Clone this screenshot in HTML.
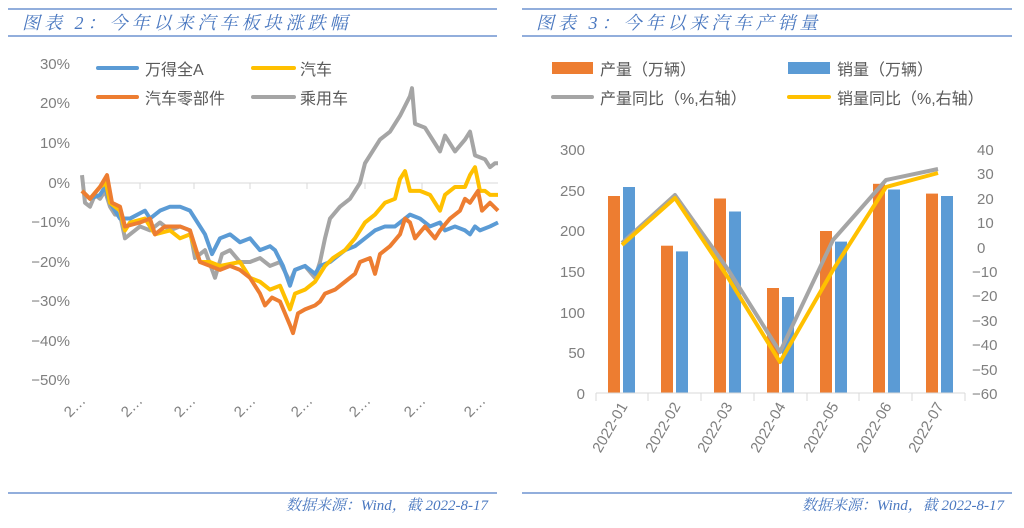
<!DOCTYPE html>
<html><head><meta charset="utf-8"><style>
body{margin:0;background:#fff;width:1024px;height:523px;overflow:hidden}
text{font-family:"Liberation Sans","Noto Sans CJK SC",sans-serif}
.t{font-family:"Liberation Serif","Noto Serif CJK SC",serif;font-style:italic;fill:#4a78c0}
.ax{fill:#7f7f7f;font-size:15px}
.lg{fill:#595959;font-size:16px}
</style></head><body>
<svg width="1024" height="523" xmlns="http://www.w3.org/2000/svg">
<g stroke="#6f93d0" stroke-width="1.5">
<line x1="8" y1="9" x2="497" y2="9"/><line x1="8" y1="36" x2="497" y2="36"/><line x1="8" y1="493" x2="497" y2="493"/>
<line x1="522" y1="9" x2="1012" y2="9"/><line x1="522" y1="36" x2="1012" y2="36"/><line x1="522" y1="493" x2="1012" y2="493"/>
</g>
<text class="t" x="22" y="29" font-size="18" letter-spacing="4">图表 2：今年以来汽车板块涨跌幅</text>
<text class="t" x="536" y="29" font-size="18" letter-spacing="4">图表 3：今年以来汽车产销量</text>
<text class="t" x="488" y="510" font-size="15" text-anchor="end">数据来源：Wind，截 2022-8-17</text>
<text class="t" x="1004" y="510" font-size="15" text-anchor="end">数据来源：Wind，截 2022-8-17</text>

<!-- left chart -->
<g class="ax" text-anchor="end">
<text x="70" y="69">30%</text><text x="70" y="108">20%</text><text x="70" y="148">10%</text><text x="70" y="188">0%</text>
<text x="70" y="227">−10%</text><text x="70" y="267">−20%</text><text x="70" y="306">−30%</text><text x="70" y="346">−40%</text><text x="70" y="385">−50%</text>
</g>
<line x1="82" y1="183" x2="498" y2="183" stroke="#d9d9d9" stroke-width="1"/>
<g stroke="#d9d9d9"><line x1="140" y1="183" x2="140" y2="189"/><line x1="194" y1="183" x2="194" y2="189"/><line x1="250" y1="183" x2="250" y2="189"/><line x1="307" y1="183" x2="307" y2="189"/><line x1="365" y1="183" x2="365" y2="189"/><line x1="422" y1="183" x2="422" y2="189"/><line x1="478" y1="183" x2="478" y2="189"/></g>
<g class="ax" font-size="14">
<text transform="translate(70,418) rotate(-45)">2…</text><text transform="translate(127,418) rotate(-45)">2…</text><text transform="translate(180,418) rotate(-45)">2…</text><text transform="translate(240,418) rotate(-45)">2…</text><text transform="translate(297,418) rotate(-45)">2…</text><text transform="translate(355,418) rotate(-45)">2…</text><text transform="translate(410,418) rotate(-45)">2…</text><text transform="translate(470,418) rotate(-45)">2…</text>
</g>
<g fill="none" stroke-width="4" stroke-linejoin="round" transform="translate(0,183) scale(1,-3.95)">
<polyline vector-effect="non-scaling-stroke" stroke="#a5a5a5" points="82,2 85,-5 90,-6 95,-3 100,-4 105,-2 110,-6 115,-8 120,-8 125,-14 130,-13 140,-11 150,-12 160,-10 170,-12 180,-11 190,-12 195,-19 205,-17 215,-24 222,-18 230,-17 240,-20 250,-20 260,-19 270,-21 280,-20 290,-25 295,-22 305,-21 315,-24 320,-20 325,-14 330,-9 340,-6 350,-4 360,0 365,5 375,9 380,11 390,13 400,17 410,22 412,24 415,15 425,14 435,10 440,8 445,12 455,8 465,11 470,13 475,7 485,6 490,4 495,5 498,5"/>
<polyline vector-effect="non-scaling-stroke" stroke="#5b9bd5" points="82,-2 90,-4 100,-3 105,-1 110,-5 120,-9 130,-9 145,-7 150,-9 160,-7 170,-6 180,-6 190,-7 200,-11 205,-13 212,-18 220,-14 230,-13 240,-15 250,-14 260,-17 270,-16 275,-17 283,-21 290,-26 295,-22 305,-21 315,-23 320,-21 330,-20 345,-17 355,-16 365,-14 375,-12 385,-11 395,-11 405,-9 410,-8 420,-9 430,-11 440,-10 445,-12 455,-11 465,-12 470,-13 475,-11 480,-12 490,-11 498,-10"/>
<polyline vector-effect="non-scaling-stroke" stroke="#ffc000" points="82,-2 90,-4 100,-1 106,0 110,-5 120,-7 125,-12 130,-10 145,-9 155,-13 170,-12 180,-14 190,-13 200,-20 210,-20 220,-21 240,-20 250,-24 260,-25 270,-27 280,-26 290,-32 295,-28 305,-27 315,-25 325,-21 333,-19 345,-17 355,-14 365,-10 375,-8 385,-5 395,-4 400,1 405,3 410,-2 420,-2 430,-3 435,-5 440,-7 445,-3 455,-1 465,-1 470,2 475,4 480,-2 485,-2 490,-3 498,-3"/>
<polyline vector-effect="non-scaling-stroke" stroke="#ed7d31" points="82,-2 90,-4 100,-1 107,2 112,-5 120,-6 125,-11 140,-10 150,-9 155,-13 165,-11 180,-11 190,-12 200,-20 210,-21 220,-22 230,-21 240,-22 250,-24 260,-28 265,-31 272,-29 280,-30 290,-36 293,-38 298,-33 305,-32 315,-31 320,-30 325,-28 335,-27 345,-25 355,-23 360,-20 370,-19 375,-23 380,-18 390,-16 400,-13 405,-9 410,-10 415,-14 425,-11 435,-14 440,-12 450,-9 460,-7 465,-4 470,-5 478,-2 482,-7 490,-5 498,-7"/>
</g>
<g stroke-width="4" stroke-linecap="round">
<line x1="98" y1="68" x2="137" y2="68" stroke="#5b9bd5"/><line x1="253" y1="68" x2="294" y2="68" stroke="#ffc000"/>
<line x1="98" y1="97" x2="137" y2="97" stroke="#ed7d31"/><line x1="253" y1="97" x2="294" y2="97" stroke="#a5a5a5"/>
</g>
<g class="lg"><text x="145" y="75">万得全A</text><text x="300" y="75">汽车</text><text x="145" y="104">汽车零部件</text><text x="300" y="104">乘用车</text></g>

<!-- right chart -->
<rect x="552" y="62" width="41" height="12" fill="#ed7d31"/><rect x="788" y="62" width="42" height="12" fill="#5b9bd5"/>
<line x1="553" y1="97" x2="592" y2="97" stroke="#a5a5a5" stroke-width="4" stroke-linecap="round"/>
<line x1="789" y1="97" x2="829" y2="97" stroke="#ffc000" stroke-width="4" stroke-linecap="round"/>
<g class="lg"><text x="600" y="75">产量（万辆）</text><text x="837" y="75">销量（万辆）</text><text x="600" y="104">产量同比（%,右轴）</text><text x="837" y="104">销量同比（%,右轴）</text></g>
<g class="ax" text-anchor="end" font-size="16">
<text x="585" y="155">300</text><text x="585" y="196">250</text><text x="585" y="236">200</text><text x="585" y="277">150</text><text x="585" y="318">100</text><text x="585" y="358">50</text><text x="585" y="399">0</text>
</g>
<g class="ax" font-size="16">
<text x="977" y="155">40</text><text x="977" y="179">30</text><text x="977" y="204">20</text><text x="977" y="228">10</text><text x="977" y="253">0</text><text x="972" y="277">−10</text><text x="972" y="301">−20</text><text x="972" y="326">−30</text><text x="972" y="350">−40</text><text x="972" y="375">−50</text><text x="972" y="399">−60</text>
</g>
<g fill="#ed7d31">
<rect x="608" y="196" width="12" height="197"/><rect x="661" y="245.7" width="12" height="147.3"/><rect x="714" y="198.5" width="12" height="194.5"/><rect x="767" y="288" width="12" height="105"/><rect x="820" y="231" width="12" height="162"/><rect x="873" y="183.8" width="12" height="209.2"/><rect x="926" y="193.6" width="12" height="199.4"/>
</g>
<g fill="#5b9bd5">
<rect x="623" y="187" width="12" height="206"/><rect x="676" y="251.4" width="12" height="141.6"/><rect x="729" y="211.5" width="12" height="181.5"/><rect x="782" y="297" width="12" height="96"/><rect x="835" y="241.6" width="12" height="151.4"/><rect x="888" y="189.5" width="12" height="203.5"/><rect x="941" y="196" width="12" height="197"/>
</g>
<line x1="596" y1="393" x2="965" y2="393" stroke="#d9d9d9"/>
<g stroke="#d9d9d9"><line x1="596" y1="393" x2="596" y2="401"/><line x1="648" y1="393" x2="648" y2="401"/><line x1="701" y1="393" x2="701" y2="401"/><line x1="754" y1="393" x2="754" y2="401"/><line x1="807" y1="393" x2="807" y2="401"/><line x1="859" y1="393" x2="859" y2="401"/><line x1="912" y1="393" x2="912" y2="401"/><line x1="965" y1="393" x2="965" y2="401"/></g>
<g fill="none" stroke-width="4" stroke-linejoin="round">
<polyline stroke="#a5a5a5" points="622,243 675,195 727,268 780,352 833,240 886,180 938,169"/>
<polyline stroke="#ffc000" points="622,245 675,198 727,276 780,362 833,270 886,187 938,173"/>
</g>
<g class="ax" font-size="15" text-anchor="end">
<text transform="translate(628,406) rotate(-60)">2022-01</text><text transform="translate(681,406) rotate(-60)">2022-02</text><text transform="translate(733,406) rotate(-60)">2022-03</text><text transform="translate(786,406) rotate(-60)">2022-04</text><text transform="translate(839,406) rotate(-60)">2022-05</text><text transform="translate(892,406) rotate(-60)">2022-06</text><text transform="translate(944,406) rotate(-60)">2022-07</text>
</g>
</svg>
</body></html>
